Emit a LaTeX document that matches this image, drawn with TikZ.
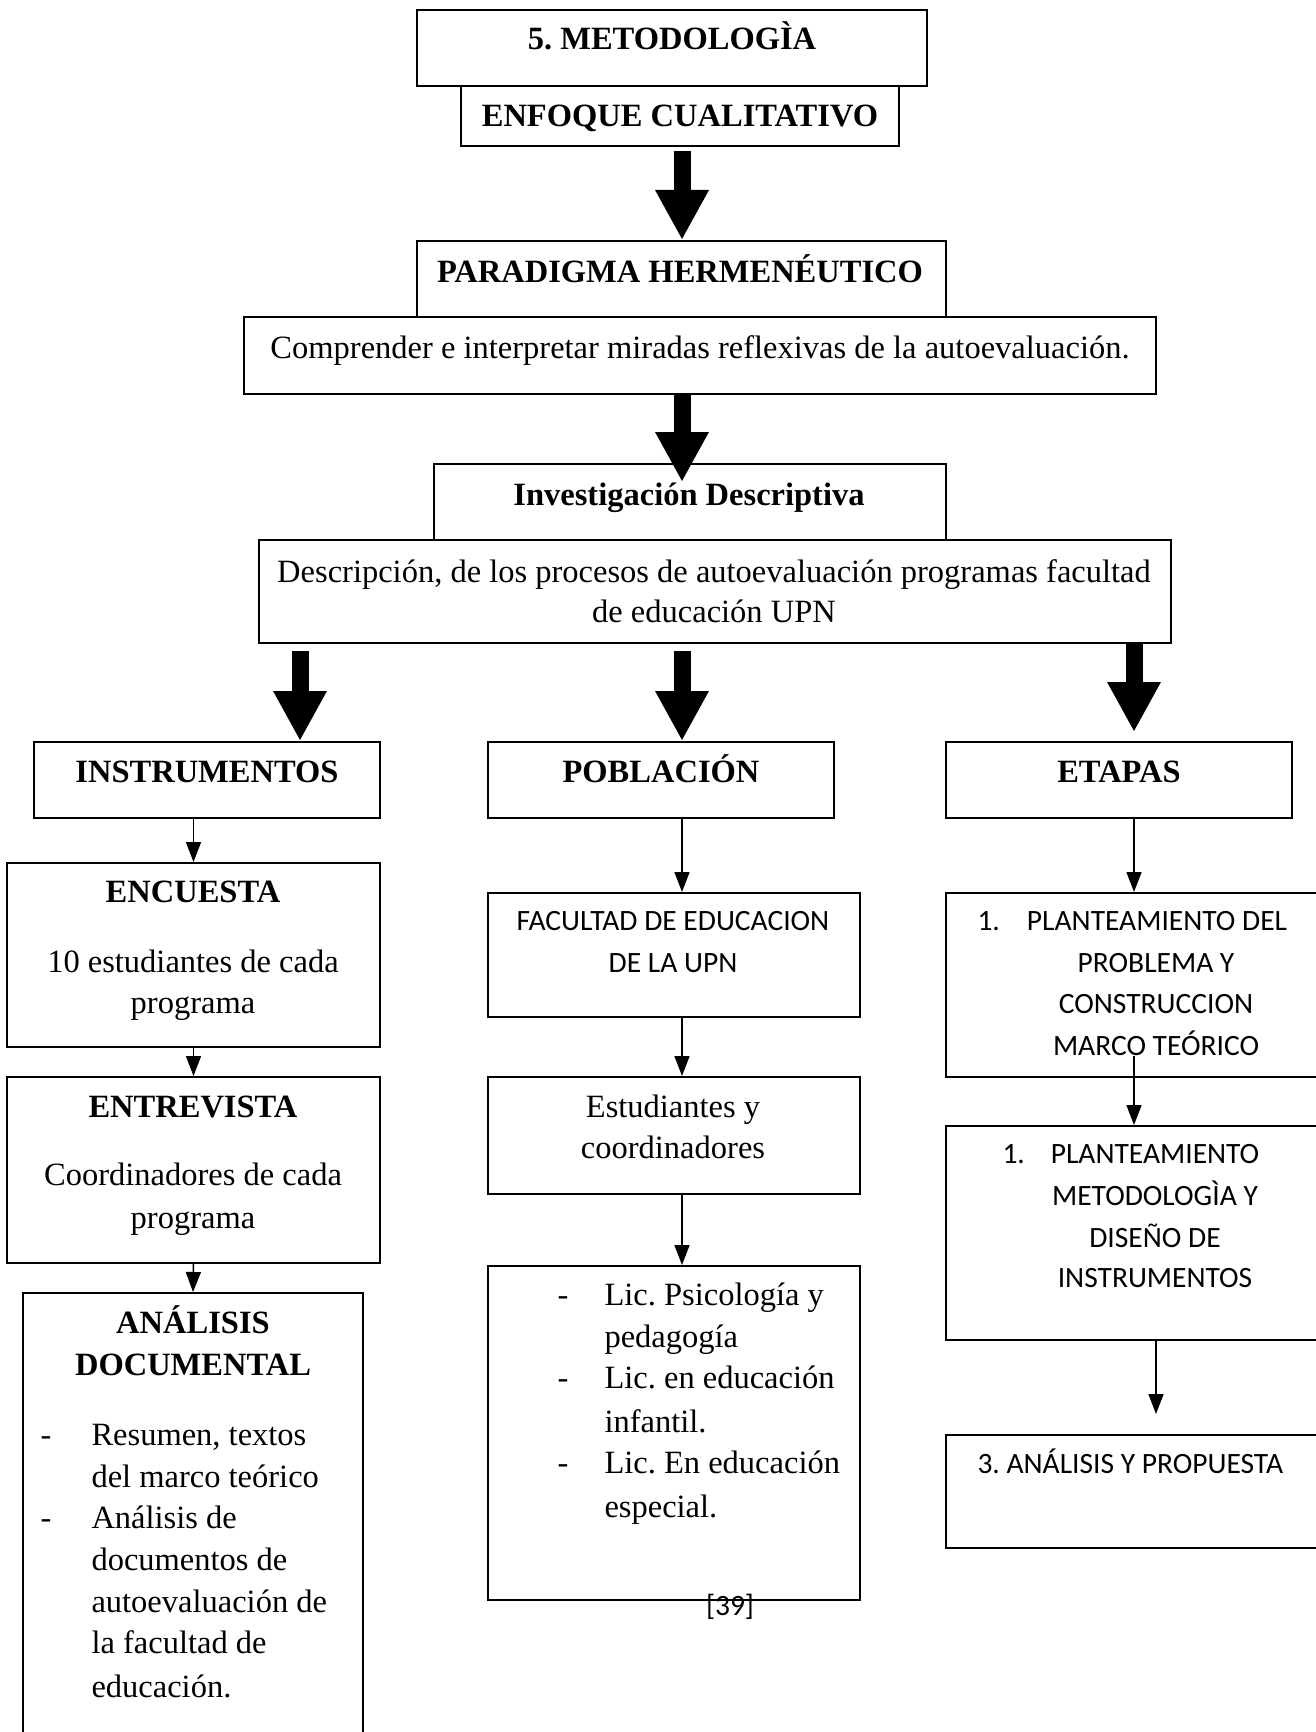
\documentclass[tikz,border=0pt]{standalone}
\usepackage{fontspec}
\setmainfont{Liberation Serif}
\newfontfamily\calfont{Carlito}
\usetikzlibrary{arrows.meta,fit}
\frenchspacing
\begin{document}
\begin{tikzpicture}[x=0.4pt,y=-0.4pt,
  box/.style={draw, line width=0.8pt, inner sep=0pt},
  txt/.style={inner sep=0pt, anchor=base, font=\fontsize{13}{15}\selectfont},
  hd/.style={txt, font=\fontsize{13}{15}\selectfont\bfseries},
  cb/.style={inner sep=0pt, anchor=base, font=\calfont\fontsize{11.8}{14}\selectfont},
  lt/.style={txt, anchor=base west},
  bigarrow/.style={line width=6.8pt, -{Triangle[length=20pt,width=20pt]}},
  thinarrow/.style={line width=0.6pt, -{Triangle[length=8pt,width=6pt]}}]
\useasboundingbox (0,0) rectangle (1315,1732);
\coordinate (cx) at (682,0);
\coordinate (rx) at (1134,0);
\coordinate (rx2) at (1156,0);
\coordinate (lx) at (300,0);

% boxes
\node[box, fit={(417,10) (927,86)}] (metod) {};
\node[box, fit={(461,86) (899,146)}] (enfoque) {};
\node[box, fit={(417,241) (946,317)}] (paradigma) {};
\node[box, fit={(244,317) (1156,394)}] (comprender) {};
\node[box, fit={(434,464) (946,540)}] (invest) {};
\node[box, fit={(259,540) (1171,643)}] (descr) {};
\node[box, fit={(34,742) (380,818)}] (instr) {};
\node[box, fit={(488,742) (834,818)}] (pobl) {};
\node[box, fit={(946,742) (1292,818)}] (etapas) {};
\node[box, fit={(7,863) (380,1047)}] (encuesta) {};
\node[box, fit={(7,1077) (380,1263)}] (entrev) {};
\node[box, fit={(23,1293) (363,1750)}] (analisis) {};
\node[box, fit={(488,893) (860,1017)}] (facultad) {};
\node[box, fit={(488,1077) (860,1194)}] (estud) {};
\node[box, fit={(488,1266) (860,1600)}] (lic) {};
\node[box, fit={(946,893) (1335,1077)}] (et1) {};
\node[box, fit={(946,1126) (1335,1340)}] (et2) {};
\node[box, fit={(946,1435) (1335,1548)}] (et3) {};

% texts
\node[hd] (t1) at (672,50) {5. METODOLOGÌA};
\node[hd] (t2) at (680,127) {ENFOQUE CUALITATIVO};
\node[hd] (t3) at (680,282) {PARADIGMA HERMENÉUTICO};
\node[txt] (t4) at (700,358) {Comprender e interpretar miradas reflexivas de la autoevaluación.};
\node[hd] (t5) at (689,505) {Investigación Descriptiva};
\node[txt] (t6a) at (714,582) {Descripción, de los procesos de autoevaluación programas facultad};
\node[txt] (t6b) at (714,622) {de educación UPN};
\node[hd] (t7) at (207,782) {INSTRUMENTOS};
\node[hd] (t8) at (661,782) {POBLACIÓN};
\node[hd] (t9) at (1119,782) {ETAPAS};

\node[hd] (e1) at (193,902) {ENCUESTA};
\node[txt] (e2) at (193,972) {10 estudiantes de cada};
\node[txt] (e3) at (193,1013) {programa};
\node[hd] (e4) at (193,1117) {ENTREVISTA};
\node[txt] (e5) at (193,1185) {Coordinadores de cada};
\node[txt] (e6) at (193,1228) {programa};
\node[hd] (e7) at (193,1333) {ANÁLISIS};
\node[hd] (e8) at (193,1375) {DOCUMENTAL};
\node[txt] (d1) at (46,1445) {-};
\node[lt] (b1) at (91,1445) {Resumen, textos};
\node[lt] (b2) at (91,1487) {del marco teórico};
\node[txt] (d2) at (46,1528) {-};
\node[lt] (b3) at (91,1528) {Análisis de};
\node[lt] (b4) at (91,1570) {documentos de};
\node[lt] (b5) at (91,1612) {autoevaluación de};
\node[lt] (b6) at (91,1653) {la facultad de};
\node[lt] (b7) at (91,1697) {educación.};

\node[cb] (f1) at (673,930) {FACULTAD DE EDUCACION};
\node[cb] (f2) at (673,972) {DE LA UPN};
\node[txt] (s1) at (673,1117) {Estudiantes y};
\node[txt] (s2) at (673,1158) {coordinadores};
\node[txt] (l1) at (563,1305) {-};
\node[lt] (m1) at (604,1305) {Lic. Psicología y};
\node[lt] (m2) at (604,1347) {pedagogía};
\node[txt] (l2) at (563,1388) {-};
\node[lt] (m3) at (604,1388) {Lic. en educación};
\node[lt] (m4) at (604,1432) {infantil.};
\node[txt] (l3) at (563,1473) {-};
\node[lt] (m5) at (604,1473) {Lic. En educación};
\node[lt] (m6) at (604,1517) {especial.};
\node[cb] (pg) at (730,1615) {[39]};

\node[cb, anchor=base west] (p1n) at (977,930) {1.};
\node[cb] (p1a) at (1157,930) {PLANTEAMIENTO DEL};
\node[cb] (p1b) at (1156,972) {PROBLEMA Y};
\node[cb] (p1c) at (1156,1013) {CONSTRUCCION};
\node[cb] (p1d) at (1156,1055) {MARCO TEÓRICO};
\node[cb, anchor=base west] (p2n) at (1002,1163) {1.};
\node[cb] (p2a) at (1155,1163) {PLANTEAMIENTO};
\node[cb] (p2b) at (1155,1205) {METODOLOGÌA Y};
\node[cb] (p2c) at (1155,1247) {DISEÑO DE};
\node[cb] (p2d) at (1155,1287) {INSTRUMENTOS};
\node[cb, anchor=base west] (p3) at (977,1473) {3. ANÁLISIS Y PROPUESTA};

% big arrows
\draw[bigarrow] ([yshift=-1.6pt]enfoque.south -| cx) -- (paradigma.north -| cx);
\draw[bigarrow] (comprender.south -| cx) -- ([yshift=-7.6pt]invest.north -| cx);
\draw[bigarrow] ([yshift=-2.8pt]descr.south -| lx) -- (instr.north -| lx);
\draw[bigarrow] ([yshift=-2.8pt]descr.south -| cx) -- (pobl.north -| cx);
\draw[bigarrow] (descr.south -| rx) -- ([yshift=3.6pt]etapas.north -| rx);

% thin arrows
\draw[thinarrow] (instr.south -| encuesta.north) -- (encuesta.north);
\draw[thinarrow] (encuesta.south) -- (entrev.north);
\draw[thinarrow] (entrev.south) -- (analisis.north);
\draw[thinarrow] (pobl.south -| cx) -- (facultad.north -| cx);
\draw[thinarrow] (facultad.south -| cx) -- (estud.north -| cx);
\draw[thinarrow] (estud.south -| cx) -- (lic.north -| cx);
\draw[thinarrow] (etapas.south -| rx) -- (et1.north -| rx);
\draw[thinarrow] ([yshift=8.8pt]et1.south -| rx) -- (et2.north -| rx);
\draw[thinarrow] (et2.south -| rx2) -- ([yshift=8pt]et3.north -| rx2);
\end{tikzpicture}
\end{document}
